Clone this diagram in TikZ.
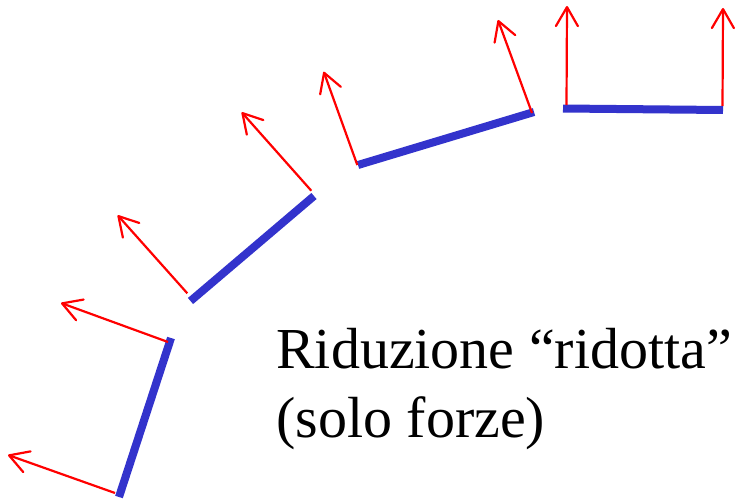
\documentclass[tikz,border=0pt]{standalone}
\usepackage{fontspec}
\setmainfont{Liberation Serif}
\usetikzlibrary{arrows.meta}
\definecolor{barblue}{RGB}{51,51,204}
\definecolor{forcered}{RGB}{255,0,0}
\begin{document}
\begin{tikzpicture}[x=1pt,y=-1pt,
  bar/.style={barblue,line width=8pt},
  force/.style={-{Straight Barb[length=19pt,width=22pt,line width=2.2pt,round]},forcered,line width=2.2pt},
  lbl/.style={inner sep=0pt,anchor=base west,font=\fontsize{58}{70}\selectfont}]
  \useasboundingbox (0,0) rectangle (735,500);
  % bars
  \coordinate (a1) at (119,497);\coordinate (a2) at (171,338);
  \coordinate (b1) at (190.5,301);\coordinate (b2) at (314,196);
  \coordinate (c1) at (358,165);\coordinate (c2) at (534,112);
  \coordinate (d1) at (563,108.5);\coordinate (d2) at (723,110);
  % force feet
  \coordinate (fa1) at (115,493);\coordinate (fa2) at (168,342);
  \coordinate (fb1) at (187.3,293.3);\coordinate (fb2) at (311.3,190.7);
  \coordinate (fc1) at (357.3,165);\coordinate (fc2) at (532,113);
  \coordinate (fd1) at (566.5,105);\coordinate (fd2) at (722.5,106);
  % arrow tips
  \coordinate (ta1) at (8,455);\coordinate (ta2) at (61,303);
  \coordinate (tb1) at (117.7,215.3);\coordinate (tb2) at (241.7,112.3);
  \coordinate (tc1) at (323.7,71.7);\coordinate (tc2) at (498,20);
  \coordinate (td1) at (567,6);\coordinate (td2) at (723,8);
  \draw[bar](a1)--(a2);\draw[bar](b1)--(b2);\draw[bar](c1)--(c2);\draw[bar](d1)--(d2);
  \draw[force](fa1)--(ta1);\draw[force](fa2)--(ta2);
  \draw[force](fb1)--(tb1);\draw[force](fb2)--(tb2);
  \draw[force](fc1)--(tc1);\draw[force](fc2)--(tc2);
  \draw[force](fd1)--(td1);\draw[force](fd2)--(td2);
  \node[lbl](l1) at (276,368.5){Riduzione “ridotta”};
  \node[lbl](l2) at (276,437.5){(solo forze)};
\end{tikzpicture}
\end{document}
